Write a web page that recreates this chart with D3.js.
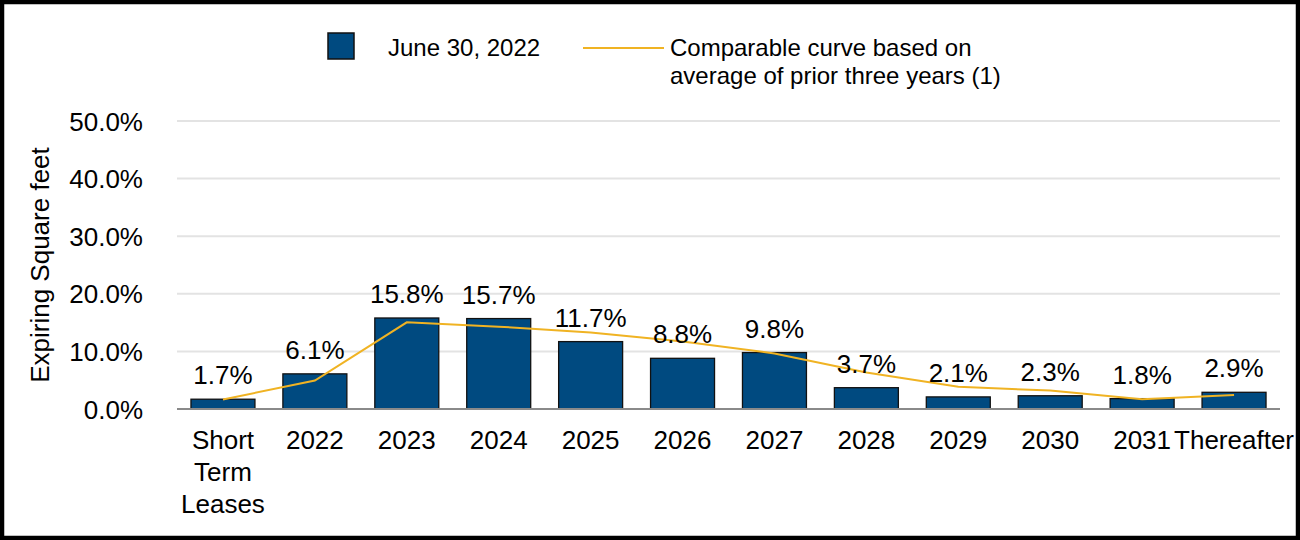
<!DOCTYPE html>
<html><head><meta charset="utf-8">
<script src="https://cdn.jsdelivr.net/npm/d3@7"></script>
<style>
html,body{margin:0;padding:0;background:#fff;}
text{font-family:"Liberation Sans",Arial,sans-serif;fill:#000;}
</style></head>
<body>
<svg id="chart" width="1300" height="540"></svg>
<script>
const categories = ["Short Term Leases","2022","2023","2024","2025","2026","2027","2028","2029","2030","2031","Thereafter"];
const barValues = [1.7, 6.1, 15.8, 15.7, 11.7, 8.8, 9.8, 3.7, 2.1, 2.3, 1.8, 2.9];
const curveValues = [1.65, 4.95, 15.05, 14.3, 13.3, 11.7, 9.65, 6.35, 3.85, 3.2, 1.7, 2.45];
const yTicks = [0, 10, 20, 30, 40, 50];
const seriesNames = ["June 30, 2022", ["Comparable curve based on", "average of prior three years (1)"]];
const yTitle = "Expiring Square feet";

const svg = d3.select("#chart");
const blue = "#004a80", orange = "#f0b323";

svg.append("rect").attr("x",2).attr("y",2).attr("width",1296).attr("height",536)
  .attr("fill","#fff").attr("stroke","#000").attr("stroke-width",4.5);

const x = d3.scaleBand().domain(categories).range([177,1280]).paddingInner(0.304).paddingOuter(0.152);
const y = d3.scaleLinear().domain([0,50]).range([409,121]);

// gridlines
svg.append("g").selectAll("line").data(yTicks.filter(d=>d>0)).join("line")
  .attr("x1",177).attr("x2",1280).attr("y1",d=>y(d)).attr("y2",d=>y(d))
  .attr("stroke","#e3e3e3").attr("stroke-width",2);

// y axis labels
const yAxis = d3.axisLeft(y).tickValues(yTicks).tickFormat(d=>d.toFixed(1)+"%").tickSize(0).tickPadding(0);
const ya = svg.append("g").attr("transform","translate(143,0)").call(yAxis);
ya.select(".domain").remove();
ya.selectAll("text").attr("font-size",26).attr("font-family","Liberation Sans, Arial, sans-serif").attr("fill","#000").attr("dy","0.35em");

// bars
svg.append("g").selectAll("rect").data(barValues).join("rect")
  .attr("x",(d,i)=>x(categories[i])).attr("width",x.bandwidth())
  .attr("y",d=>y(d)).attr("height",d=>y(0)-y(d))
  .attr("fill",blue).attr("stroke","#111").attr("stroke-width",1.3);

// baseline
svg.append("line").attr("x1",177).attr("x2",1280).attr("y1",y(0)).attr("y2",y(0))
  .attr("stroke","#8a8a8a").attr("stroke-width",2);

// curve
const line = d3.line().x((d,i)=>x(categories[i])+x.bandwidth()/2).y(d=>y(d));
svg.append("path").datum(curveValues).attr("d",line).attr("fill","none")
  .attr("stroke",orange).attr("stroke-width",2);

// data labels
svg.append("g").selectAll("text").data(barValues).join("text")
  .attr("x",(d,i)=>x(categories[i])+x.bandwidth()/2).attr("y",d=>y(d)-15)
  .attr("text-anchor","middle").attr("font-size",26).text(d=>d.toFixed(1)+"%");

// x labels
const xl = svg.append("g").selectAll("text").data(categories).join("text")
  .attr("x",d=>x(d)+x.bandwidth()/2).attr("y",449)
  .attr("text-anchor","middle").attr("font-size",26);
xl.each(function(d){
  const t = d3.select(this);
  const parts = d==="Short Term Leases" ? ["Short","Term","Leases"] : [d];
  parts.forEach((p,k)=>t.append("tspan").attr("x",x(d)+x.bandwidth()/2).attr("dy",k===0?0:31.8).text(p));
});

// y title
svg.append("text").attr("transform","translate(49,265) rotate(-90)")
  .attr("text-anchor","middle").attr("font-size",26).text(yTitle);

// legend
svg.append("rect").attr("x",328).attr("y",33).attr("width",26).attr("height",26)
  .attr("fill",blue).attr("stroke","#111").attr("stroke-width",1.5);
svg.append("text").attr("x",388).attr("y",56).attr("font-size",24).text(seriesNames[0]);
svg.append("line").attr("x1",583).attr("x2",664).attr("y1",48).attr("y2",48)
  .attr("stroke",orange).attr("stroke-width",2);
const lt = svg.append("text").attr("x",670).attr("y",56).attr("font-size",24);
seriesNames[1].forEach((p,k)=>lt.append("tspan").attr("x",670).attr("dy",k===0?0:27.5).text(p));
</script>
</body></html>
